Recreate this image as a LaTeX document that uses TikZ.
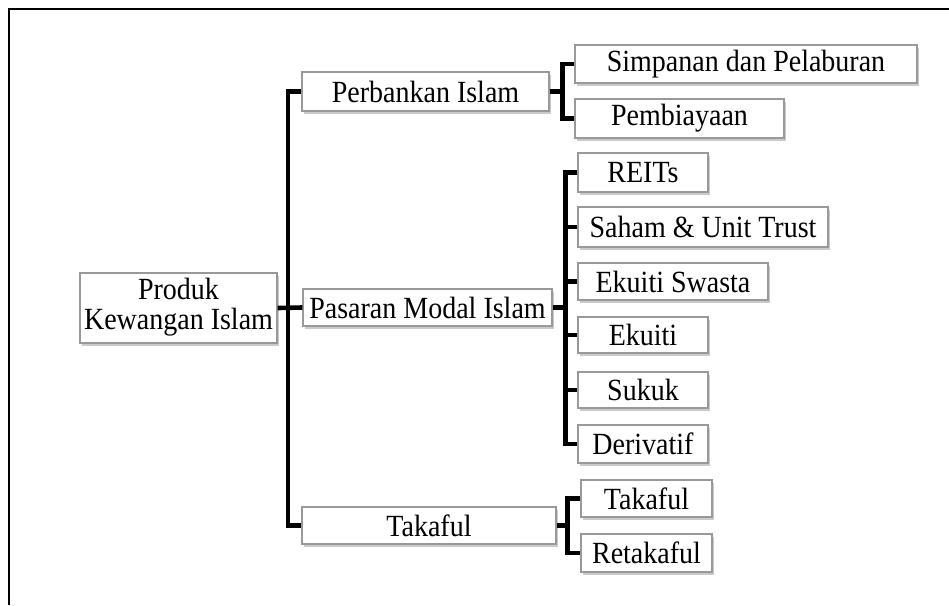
\documentclass[tikz,border=0pt]{standalone}
\usepackage{graphicx}
\usepackage{fontspec}
\setmainfont{Liberation Serif}
\usetikzlibrary{shadows}
\newcommand\tallt[1]{\scalebox{1}[1.1]{#1}}
\begin{document}
\begin{tikzpicture}[x=1pt,y=-1pt,
  box/.style={draw=black!40, line width=1.3pt, fill=white, inner sep=0pt, align=center,
    font=\fontsize{28}{30}\selectfont,
    drop shadow={shadow xshift=2pt, shadow yshift=-2.5pt, fill=black!35, opacity=0.6}},
  conn/.style={line width=4.6pt, line join=miter, black},
  frame/.style={line width=2pt, black}]
\useasboundingbox (0,0) rectangle (949,605);
\draw[frame] (9,605) -- (9,9) -- (949,9);
% nodes
\node[box, minimum width=197, minimum height=70] (root) at (178.5,308) {\tallt{\begin{tabular}{@{}c@{}}Produk\\[-3pt]Kewangan Islam\end{tabular}}};
\node[box, minimum width=247, minimum height=39] (perb) at (425.5,91.5) {\tallt{Perbankan Islam}};
\node[box, minimum width=249, minimum height=37] (pasar) at (427.5,307.5) {\tallt{Pasaran Modal Islam}};
\node[box, minimum width=254, minimum height=37] (tak) at (429,525.5) {\tallt{Takaful}};
\node[box, minimum width=342, minimum height=38] (simp) at (746,64) {\tallt{Simpanan dan Pelaburan}};
\node[box, minimum width=209, minimum height=39] (pemb) at (679.5,118.5) {\tallt{Pembiayaan}};
\node[box, minimum width=130, minimum height=39] (reits) at (643,172.5) {\tallt{REITs}};
\node[box, minimum width=250, minimum height=40] (saham) at (703,227) {\tallt{Saham \& Unit Trust}};
\node[box, minimum width=190, minimum height=37] (swasta) at (673,281.5) {\tallt{Ekuiti Swasta}};
\node[box, minimum width=130, minimum height=36] (ekuiti) at (643,335) {\tallt{Ekuiti}};
\node[box, minimum width=130, minimum height=36] (sukuk) at (643,390) {\tallt{Sukuk}};
\node[box, minimum width=130, minimum height=38] (deriv) at (643,444) {\tallt{Derivatif}};
\node[box, minimum width=131, minimum height=37] (takc) at (646.5,498.5) {\tallt{Takaful}};
\node[box, minimum width=131, minimum height=38] (retak) at (646.5,553) {\tallt{Retakaful}};
% trunk
\coordinate (tr) at (288,307.5);
\draw[conn] (perb.west) -| (tr) |- (tak.west);
\draw[conn] (root.east) -- (pasar.west);
% perbankan bracket
\draw[conn] (perb.east) -- ++(13,0) coordinate (b1);
\draw[conn] (simp.west) -| (b1) |- (pemb.west);
% pasaran bracket
\draw[conn] (pasar.east) -- ++(13,0) coordinate (b2);
\draw[conn] (reits.west) -| (b2) |- (deriv.west);
\draw[conn] (b2 |- saham.west) -- (saham.west);
\draw[conn] (b2 |- swasta.west) -- (swasta.west);
\draw[conn] (b2 |- ekuiti.west) -- (ekuiti.west);
\draw[conn] (b2 |- sukuk.west) -- (sukuk.west);
% takaful bracket
\draw[conn] (tak.east) -- ++(11,0) coordinate (b3);
\draw[conn] (takc.west) -| (b3) |- (retak.west);
\end{tikzpicture}
\end{document}
